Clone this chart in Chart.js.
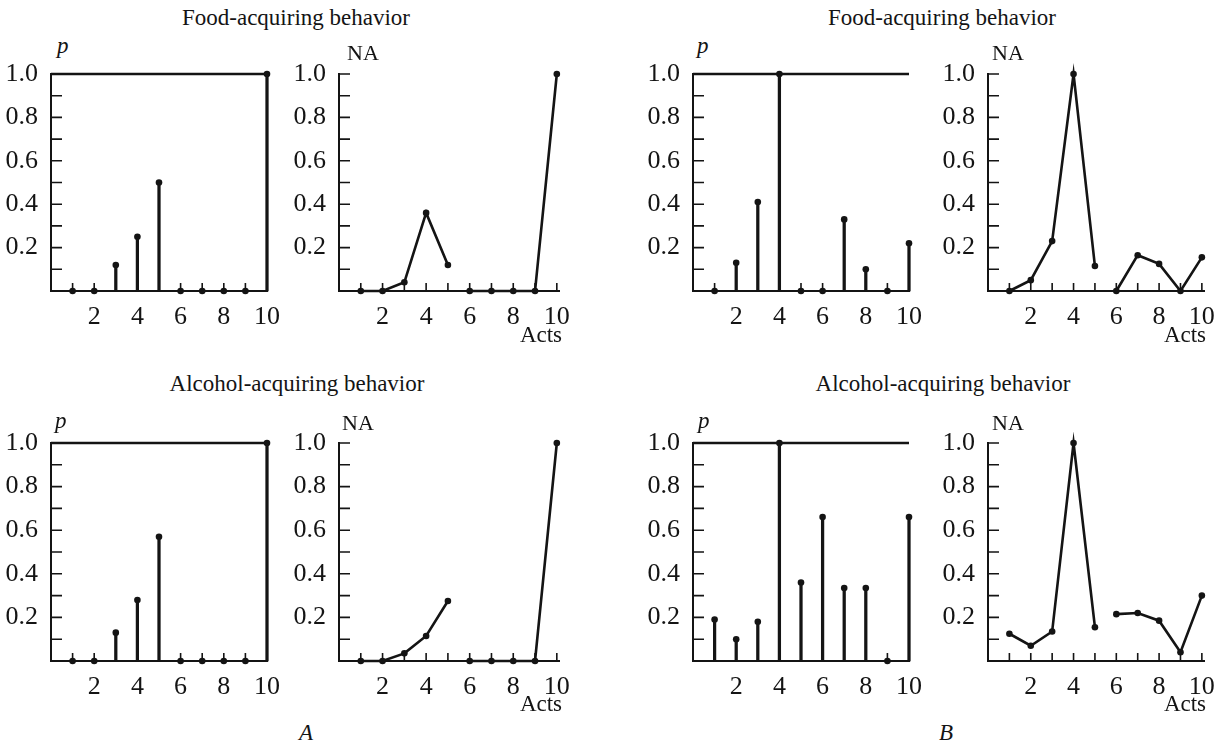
<!DOCTYPE html>
<html>
<head>
<meta charset="utf-8">
<script src="https://cdn.jsdelivr.net/npm/chart.js@4.4.1/dist/chart.umd.min.js"></script>
<style>
  body { margin: 0; background: #fff; width: 1217px; height: 744px; position: relative; overflow: hidden;
         font-family: "Liberation Serif", "Times New Roman", serif; color: #141414; }
  canvas { position: absolute; }
  .lbl { position: absolute; white-space: nowrap; line-height: 1; }
</style>
</head>
<body>
<script>
const INK = '#141414';
const SERIF = '"Liberation Serif", "Times New Roman", serif';

// axes
const ACTS = [1, 2, 3, 4, 5, 6, 7, 8, 9, 10];
const X_LABELS = [2, 4, 6, 8, 10];
const Y_LABELS = [0.2, 0.4, 0.6, 0.8, 1.0];
const Y_MINOR = [0.1, 0.2, 0.3, 0.4, 0.5, 0.6, 0.7, 0.8, 0.9, 1.0];
const P_REF = 1.0;          // horizontal line on the p panels
const NA_BREAK_AFTER = 5;   // NA curve is not joined between act 5 and act 6

// A
const foodP_A  = [0, 0, 0.12, 0.25, 0.50, 0, 0, 0, 0, 1.0];
const foodNA_A = [0, 0, 0.04, 0.36, 0.12, 0, 0, 0, 0, 1.0];
const alcP_A   = [0, 0, 0.13, 0.28, 0.57, 0, 0, 0, 0, 1.0];
const alcNA_A  = [0, 0, 0.035, 0.115, 0.275, 0, 0, 0, 0, 1.0];

// B
const foodP_B  = [0, 0.13, 0.41, 1.0, 0, 0, 0.33, 0.10, 0, 0.22];
const foodNA_B = [0, 0.05, 0.23, 1.0, 0.115, 0, 0.165, 0.125, 0, 0.155];
const alcP_B   = [0.19, 0.10, 0.18, 1.0, 0.36, 0.66, 0.335, 0.335, 0, 0.66];
const alcNA_B  = [0.125, 0.07, 0.135, 1.0, 0.155, 0.215, 0.22, 0.185, 0.04, 0.30];

const PAD_L = 50, PAD_T = 14, PAD_R = 16, PAD_B = 40;

const panels = [
  { kind: 'p',  values: foodP_A,  left: 51,  top: 74,  w: 216, h: 217, xMax: 10 },
  { kind: 'na', values: foodNA_A, left: 339, top: 74,  w: 220, h: 217, xMax: 10.1 },
  { kind: 'p',  values: foodP_B,  left: 693, top: 74,  w: 216, h: 217, xMax: 10 },
  { kind: 'na', values: foodNA_B, left: 988, top: 74,  w: 216, h: 217, xMax: 10.1 },
  { kind: 'p',  values: alcP_A,   left: 51,  top: 443, w: 216, h: 218, xMax: 10 },
  { kind: 'na', values: alcNA_A,  left: 339, top: 443, w: 220, h: 218, xMax: 10.1 },
  { kind: 'p',  values: alcP_B,   left: 693, top: 443, w: 216, h: 218, xMax: 10 },
  { kind: 'na', values: alcNA_B,  left: 988, top: 443, w: 216, h: 218, xMax: 10.1 },
];

// small inward tick marks on both axes
const inwardTicks = {
  id: 'inwardTicks',
  beforeDatasetsDraw(chart) {
    const { ctx, chartArea: a, scales: { x, y } } = chart;
    ctx.save();
    ctx.strokeStyle = INK;
    ctx.lineWidth = 1.6;
    ctx.beginPath();
    Y_MINOR.forEach(v => {
      const py = y.getPixelForValue(v);
      ctx.moveTo(a.left, py);
      ctx.lineTo(a.left + 11, py);
    });
    ACTS.forEach(v => {
      const px = x.getPixelForValue(v);
      ctx.moveTo(px, a.bottom);
      ctx.lineTo(px, a.bottom - 8);
    });
    ctx.stroke();
    ctx.restore();
  }
};

function makePanel(p) {
  const cv = document.createElement('canvas');
  const cw = PAD_L + p.w + PAD_R, ch = PAD_T + p.h + PAD_B;
  cv.width = cw; cv.height = ch;
  cv.style.width = cw + 'px'; cv.style.height = ch + 'px';
  cv.style.left = (p.left - PAD_L) + 'px';
  cv.style.top = (p.top - PAD_T) + 'px';
  document.body.appendChild(cv);

  const pts = ACTS.map((a, i) => ({ x: a, y: p.values[i] }));
  let datasets;
  if (p.kind === 'p') {
    datasets = [
      { type: 'line', data: [{ x: 0, y: P_REF }, { x: 10, y: P_REF }], borderColor: INK,
        borderWidth: 2.5, pointRadius: 0, clip: false },
      { type: 'bar', data: pts, backgroundColor: INK, barThickness: 2.6, clip: false },
      { type: 'scatter', data: pts, pointRadius: 3.3, pointBackgroundColor: INK,
        pointBorderWidth: 0, clip: false },
    ];
  } else {
    datasets = [
      { type: 'line', data: pts, borderColor: INK, borderWidth: 2.6, tension: 0,
        pointRadius: 3.3, pointBackgroundColor: INK, pointBorderWidth: 0, clip: false,
        segment: { borderColor: c => c.p0.parsed.x === NA_BREAK_AFTER ? 'rgba(0,0,0,0)' : INK } },
    ];
  }

  const tickFont = { family: SERIF, size: 26 };
  new Chart(cv, {
    type: 'line',
    data: { datasets },
    plugins: [inwardTicks],
    options: {
      responsive: false,
      animation: false,
      layout: { padding: { left: 0, top: PAD_T, right: PAD_R, bottom: 0 } },
      plugins: { legend: { display: false }, tooltip: { enabled: false } },
      scales: {
        x: {
          type: 'linear', min: 0, max: p.xMax, offset: false,
          grid: { display: false },
          border: { color: INK, width: 2 },
          afterBuildTicks: s => { s.ticks = X_LABELS.map(v => ({ value: v })); },
          afterFit: s => { s.height = PAD_B; s.paddingLeft = 0; s.paddingRight = 0; },
          ticks: { font: tickFont, color: INK, padding: 3, maxRotation: 0, autoSkip: false,
                   callback: v => String(v) }
        },
        y: {
          min: 0, max: 1,
          grid: { display: false },
          border: { color: INK, width: 2 },
          afterBuildTicks: s => { s.ticks = Y_LABELS.map(v => ({ value: v })); },
          afterFit: s => { s.width = PAD_L; s.paddingTop = 0; s.paddingBottom = 0; },
          ticks: { font: tickFont, color: INK, padding: 5, callback: v => v.toFixed(1) }
        }
      }
    }
  });
}

panels.forEach(makePanel);

function addText(text, x, baseline, size, align, italic) {
  const d = document.createElement('div');
  d.className = 'lbl';
  d.textContent = text;
  d.style.fontSize = size + 'px';
  d.style.top = (baseline - 0.8375 * size) + 'px';
  d.style.left = x + 'px';
  if (italic) d.style.fontStyle = 'italic';
  if (align === 'center') d.style.transform = 'translateX(-50%)';
  document.body.appendChild(d);
}

addText('Food-acquiring behavior', 296, 25, 23, 'center');
addText('Food-acquiring behavior', 942, 25, 23, 'center');
addText('Alcohol-acquiring behavior', 297, 391, 23, 'center');
addText('Alcohol-acquiring behavior', 943, 391, 23, 'center');

addText('p', 57, 53, 23, 'left', true);
addText('p', 697, 53, 23, 'left', true);
addText('p', 55, 428, 23, 'left', true);
addText('p', 698, 428, 23, 'left', true);

addText('NA', 347, 60, 22, 'left');
addText('NA', 992, 60, 22, 'left');
addText('NA', 342, 430, 22, 'left');
addText('NA', 992, 430, 22, 'left');

addText('Acts', 541, 342, 23, 'center');
addText('Acts', 1185, 342, 23, 'center');
addText('Acts', 541, 711, 23, 'center');
addText('Acts', 1185, 711, 23, 'center');

addText('A', 306, 740, 23, 'center', true);
addText('B', 946, 740, 23, 'center', true);
</script>
</body>
</html>
